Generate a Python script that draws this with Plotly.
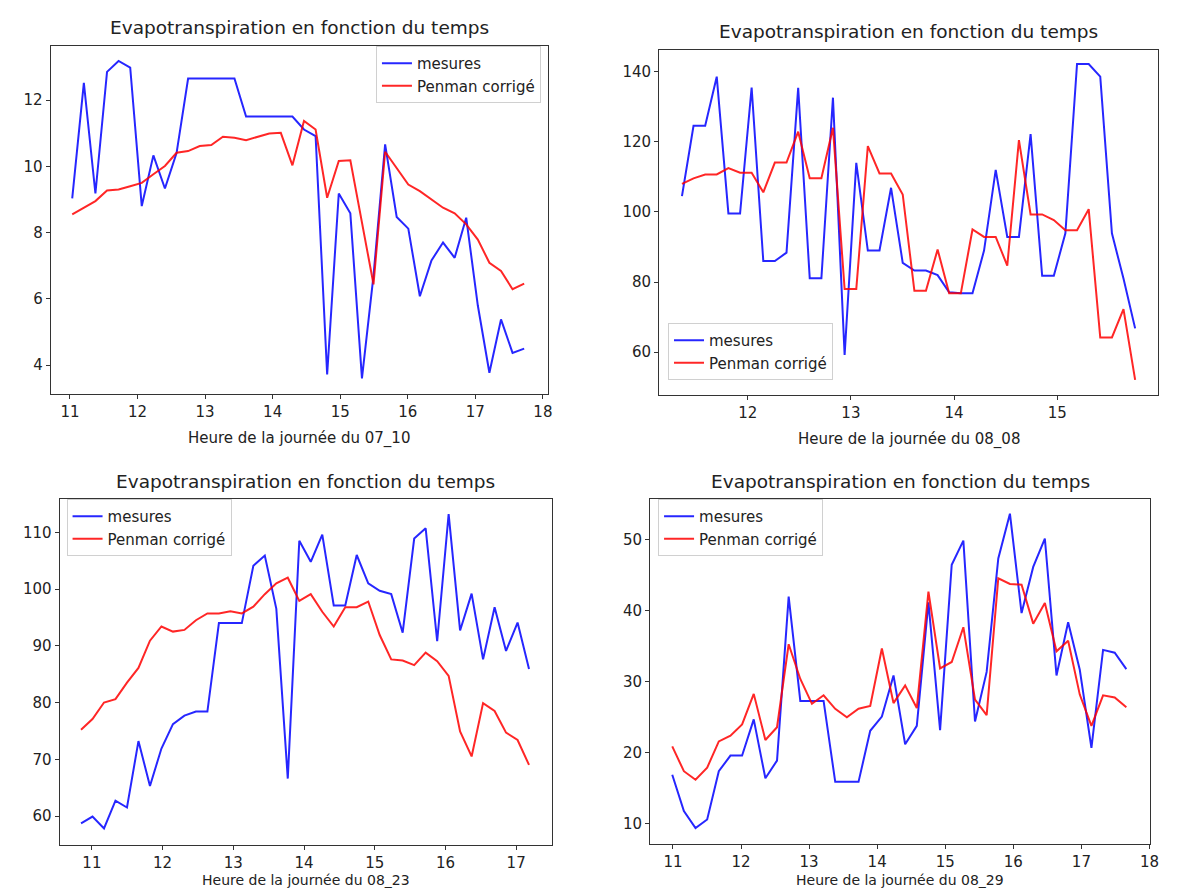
import plotly.graph_objects as go
from plotly.subplots import make_subplots

# --- 07_10 ---
heures_0710 = [11.034, 11.206, 11.377, 11.549, 11.720, 11.892, 12.063, 12.235, 12.406, 12.578,
               12.749, 12.921, 13.092, 13.264, 13.435, 13.607, 13.778, 13.950, 14.121, 14.293,
               14.464, 14.636, 14.807, 14.979, 15.150, 15.322, 15.493, 15.665, 15.836, 16.008,
               16.179, 16.351, 16.522, 16.694, 16.865, 17.037, 17.208, 17.380, 17.551, 17.723]
mesures_0710 = [9.03, 12.52, 9.18, 12.85, 13.18, 12.98, 8.80, 10.33, 9.33, 10.40,
                12.65, 12.65, 12.65, 12.65, 12.65, 11.50, 11.50, 11.50, 11.50, 11.50,
                11.11, 10.91, 3.72, 9.18, 8.58, 3.60, 6.70, 10.66, 8.47, 8.12,
                6.08, 7.16, 7.70, 7.24, 8.45, 5.80, 3.77, 5.38, 4.37, 4.50]
penman_0710 = [8.55, 8.75, 8.95, 9.27, 9.30, 9.40, 9.50, 9.76, 10.01, 10.41,
               10.46, 10.61, 10.64, 10.89, 10.86, 10.79, 10.89, 10.99, 11.01, 10.03,
               11.37, 11.11, 9.05, 10.16, 10.18, 8.35, 6.44, 10.44, 9.96, 9.45,
               9.25, 9.00, 8.75, 8.58, 8.25, 7.79, 7.09, 6.84, 6.29, 6.46]

# --- 08_08 ---
heures_0808 = [11.363, 11.475, 11.588, 11.700, 11.813, 11.926, 12.038, 12.151, 12.263, 12.376,
               12.489, 12.601, 12.714, 12.826, 12.939, 13.052, 13.164, 13.277, 13.389, 13.502,
               13.615, 13.727, 13.840, 13.952, 14.065, 14.178, 14.290, 14.403, 14.515, 14.628,
               14.741, 14.853, 14.966, 15.078, 15.191, 15.304, 15.416, 15.529, 15.641, 15.754]
mesures_0808 = [104.5, 124.6, 124.6, 138.6, 99.6, 99.6, 135.5, 86.0, 86.0, 88.4,
                135.4, 81.1, 81.1, 132.6, 59.2, 114.0, 89.0, 89.0, 106.9, 85.5,
                83.3, 83.3, 82.0, 77.1, 76.8, 76.8, 89.0, 112.0, 92.9, 92.9,
                122.2, 81.8, 81.8, 93.9, 142.2, 142.2, 138.6, 93.9, 81.0, 66.8]
penman_0808 = [108.0, 109.6, 110.7, 110.7, 112.5, 111.2, 111.2, 105.6, 114.1, 114.1,
               122.9, 109.6, 109.6, 124.0, 78.0, 78.0, 118.8, 111.0, 111.0, 105.0,
               77.5, 77.5, 89.3, 76.8, 76.8, 95.0, 92.9, 92.9, 84.7, 120.5,
               99.3, 99.3, 97.7, 94.8, 94.8, 100.8, 64.2, 64.2, 72.3, 52.1]

# --- 08_23 ---
heures_0823 = [10.846, 11.008, 11.171, 11.333, 11.496, 11.658, 11.821, 11.983, 12.146, 12.308,
               12.471, 12.633, 12.796, 12.958, 13.120, 13.283, 13.445, 13.608, 13.770, 13.933,
               14.095, 14.258, 14.420, 14.583, 14.745, 14.908, 15.070, 15.233, 15.395, 15.558,
               15.720, 15.883, 16.045, 16.207, 16.370, 16.532, 16.695, 16.857, 17.020, 17.182]
mesures_0823 = [58.7, 59.9, 57.8, 62.7, 61.5, 73.2, 65.3, 71.9, 76.2, 77.7,
                78.4, 78.4, 94.0, 94.0, 94.0, 104.1, 105.9, 96.5, 66.6, 108.5,
                104.8, 109.6, 97.1, 97.1, 106.0, 101.0, 99.7, 99.1, 92.3, 108.9,
                110.7, 90.8, 113.2, 92.7, 99.2, 87.6, 96.8, 89.1, 94.1, 85.9]
penman_0823 = [75.2, 77.1, 80.0, 80.6, 83.5, 86.1, 90.9, 93.4, 92.5, 92.8,
               94.5, 95.7, 95.7, 96.1, 95.7, 96.9, 99.1, 101.0, 102.0, 97.9,
               99.1, 96.0, 93.4, 96.8, 96.8, 97.8, 91.9, 87.6, 87.4, 86.6,
               88.8, 87.3, 84.7, 74.9, 70.5, 79.9, 78.5, 74.7, 73.4, 69.0]

# --- 08_29 ---
heures_0829 = [10.990, 11.161, 11.332, 11.503, 11.674, 11.845, 12.016, 12.187, 12.358, 12.529,
               12.700, 12.871, 13.042, 13.213, 13.384, 13.555, 13.726, 13.898, 14.069, 14.240,
               14.411, 14.582, 14.753, 14.924, 15.095, 15.266, 15.437, 15.608, 15.779, 15.950,
               16.121, 16.292, 16.463, 16.634, 16.805, 16.976, 17.147, 17.318, 17.489, 17.660]
mesures_0829 = [16.9, 11.8, 9.4, 10.6, 17.4, 19.6, 19.6, 24.7, 16.4, 18.9,
                42.0, 27.3, 27.3, 27.3, 15.9, 15.9, 15.9, 23.1, 25.1, 30.9,
                21.2, 23.8, 41.2, 23.2, 46.5, 49.9, 24.4, 31.4, 47.4, 53.7,
                39.7, 46.2, 50.2, 30.9, 38.4, 31.7, 20.7, 34.5, 34.1, 31.8]
penman_0829 = [20.9, 17.4, 16.2, 17.9, 21.6, 22.4, 24.0, 28.3, 21.8, 23.6,
               35.3, 30.4, 26.9, 28.1, 26.2, 25.0, 26.2, 26.6, 34.7, 27.0,
               29.5, 26.3, 42.7, 31.9, 32.8, 37.7, 27.5, 25.3, 44.6, 43.8,
               43.7, 38.2, 41.1, 34.3, 35.8, 28.2, 23.8, 28.1, 27.8, 26.4]

jours = ["07_10", "08_08", "08_23", "08_29"]
titre = "Evapotranspiration en fonction du temps"

W, H = 1193, 888
FONT = "DejaVu Sans"
TXT = "#222222"

# axes boxes in pixels: (left, right, top, bottom)
boxes = [(43, 544, 38, 386), (656, 1159, 42, 387), (52, 548, 491, 837), (647, 1151, 491, 836)]
xranges = [[10.715, 18.074], [11.141, 15.978], [10.543, 17.505], [10.665, 18.012]]
yranges = [[3.13, 13.63], [47.8, 146.2], [54.89, 115.87], [7.14, 55.77]]
xticks = [list(range(11, 19)), list(range(12, 16)), list(range(11, 18)), list(range(11, 19))]
yticks = [[4, 6, 8, 10, 12], [60, 80, 100, 120, 140], [60, 70, 80, 90, 100, 110], [10, 20, 30, 40, 50]]
# x label centre (px from top) and size per subplot
xlabel_y = [430, 431, 872, 872]
xlabel_size = [15, 15, 14, 14]
# legend anchors: (x px, y px, xanchor, yanchor)
legend_pos = [(537, 38, "right", "top"), (665, 372, "left", "bottom"),
              (59, 491, "left", "top"), (655, 491, "left", "top")]

series = [(heures_0710, mesures_0710, penman_0710), (heures_0808, mesures_0808, penman_0808),
          (heures_0823, mesures_0823, penman_0823), (heures_0829, mesures_0829, penman_0829)]

fig = make_subplots(rows=2, cols=2)

annotations = []
layout_upd = {}
for k, (h, m, p) in enumerate(series):
    row, col = k // 2 + 1, k % 2 + 1
    leg = "legend" if k == 0 else f"legend{k + 1}"
    fig.add_trace(go.Scatter(x=h, y=m, mode="lines", name="mesures", legend=leg,
                             line=dict(color="rgba(0,0,255,0.85)", width=2)), row=row, col=col)
    fig.add_trace(go.Scatter(x=h, y=p, mode="lines", name="Penman corrigé", legend=leg,
                             line=dict(color="rgba(255,0,0,0.85)", width=2)), row=row, col=col)

    l, r, t, b = boxes[k]
    ax = "" if k == 0 else str(k + 1)
    axis_style = dict(showline=True, mirror=True, linecolor="#333", linewidth=1,
                      ticks="outside", ticklen=4, tickcolor="#333", showgrid=False, zeroline=False,
                      tickfont=dict(family=FONT, size=15, color=TXT))
    layout_upd["xaxis" + ax] = dict(domain=[l / W, r / W], range=xranges[k], tickvals=xticks[k],
                                    **axis_style)
    layout_upd["yaxis" + ax] = dict(domain=[1 - b / H, 1 - t / H], range=yranges[k],
                                    tickvals=yticks[k], **axis_style)

    cx = (l + r) / 2 / W
    annotations.append(dict(text=titre, x=cx, y=1 - (t - 18) / H, xref="paper", yref="paper",
                            showarrow=False, xanchor="center", yanchor="middle",
                            font=dict(family=FONT, size=18.5, color=TXT)))
    annotations.append(dict(text="Heure de la journée du " + jours[k], x=cx, y=1 - xlabel_y[k] / H,
                            xref="paper", yref="paper", showarrow=False,
                            xanchor="center", yanchor="middle",
                            font=dict(family=FONT, size=xlabel_size[k], color=TXT)))

    lx, ly, xa, ya = legend_pos[k]
    layout_upd[leg] = dict(
        x=lx / W, y=1 - ly / H, xanchor=xa, yanchor=ya, xref="paper", yref="paper",
        bgcolor="rgba(255,255,255,0.8)", bordercolor="#d0d0d0", borderwidth=1,
        font=dict(family=FONT, size=15, color=TXT), itemwidth=30, tracegroupgap=0)

fig.update_layout(layout_upd)
fig.update_layout(
    width=W, height=H, margin=dict(l=0, r=0, t=0, b=0),
    paper_bgcolor="white", plot_bgcolor="white",
    showlegend=True, annotations=annotations,
)

fig.write_html("out.html")
